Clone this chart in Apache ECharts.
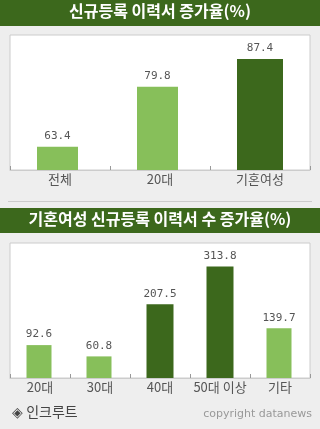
<!DOCTYPE html>
<html><head><meta charset="utf-8">
<script src="https://cdn.jsdelivr.net/npm/echarts@6/dist/echarts.min.js"></script>
<style>html,body{margin:0;padding:0;background:#eeeeee;}#c{width:320px;height:429px;}</style>
</head><body><div id="c"></div>
<script>
var title1 = '신규등록 이력서 증가율(%)';
var title2 = '기혼여성 신규등록 이력서 수 증가율(%)';
var cats1 = ['전체', '20대', '기혼여성'];
var light1 = [63.4, 79.8, '-'];
var dark1 = ['-', '-', 87.4];
var cats2 = ['20대', '30대', '40대', '50대 이상', '기타'];
var light2 = [92.6, 60.8, '-', '-', 139.7];
var dark2 = ['-', '-', 207.5, 313.8, '-'];
var source = '◈ 인크루트';
var credit = 'copyright datanews';

var LIGHT = '#87bf5a', DARK = '#3c681c';
var labelStyle = {show: true, position: 'top', distance: 5, color: '#555', fontFamily: 'DejaVu Sans Mono', fontSize: 11};
var chart = echarts.init(document.getElementById('c'), null, {renderer: 'canvas'});
function xAx(idx, cats) {
  return {gridIndex: idx, type: 'category', data: cats,
    axisLine: {show: true, lineStyle: {color: '#cccccc'}},
    axisTick: {show: true, inside: true, length: 4, lineStyle: {color: '#999'}},
    axisLabel: {interval: 0, color: '#555', fontFamily: 'Noto Sans CJK KR', fontSize: 13, margin: 3}};
}
chart.setOption({
  animation: false,
  backgroundColor: '#eeeeee',
  graphic: [
    {type: 'rect', shape: {x: 0, y: 0, width: 320, height: 26}, style: {fill: DARK}},
    {type: 'line', shape: {x1: 8, y1: 201.5, x2: 312, y2: 201.5}, style: {stroke: '#cccccc', lineWidth: 1}},
    {type: 'rect', shape: {x: 0, y: 208, width: 320, height: 25}, style: {fill: DARK}}
  ],
  title: [
    {text: title1, left: 'center', top: 3, padding: 0, textStyle: {color: '#fff', fontSize: 16, fontWeight: 'bold', fontFamily: 'Noto Sans CJK KR'}},
    {text: title2, left: 'center', top: 211, padding: 0, textStyle: {color: '#fff', fontSize: 16, fontWeight: 'bold', fontFamily: 'Noto Sans CJK KR'}},
    {text: source, left: 12, top: 405, padding: 0, textStyle: {color: '#444', fontSize: 14, fontWeight: 'normal', fontFamily: 'Noto Sans CJK KR'}},
    {text: credit, right: 8, top: 409, padding: 0, textStyle: {color: '#999', fontSize: 11, fontWeight: 'normal', fontFamily: 'DejaVu Sans'}}
  ],
  grid: [
    {left: 10, top: 35, width: 300, height: 135, show: true, backgroundColor: '#fff', borderColor: '#cccccc', borderWidth: 1},
    {left: 10, top: 243, width: 300, height: 135, show: true, backgroundColor: '#fff', borderColor: '#cccccc', borderWidth: 1}
  ],
  xAxis: [xAx(0, cats1), xAx(1, cats2)],
  yAxis: [
    {gridIndex: 0, type: 'value', min: 57, max: 94, show: false, splitLine: {show: false}},
    {gridIndex: 1, type: 'value', min: 0, max: 380, show: false, splitLine: {show: false}}
  ],
  series: [
    {type: 'bar', xAxisIndex: 0, yAxisIndex: 0, data: light1, barWidth: 41, barGap: '-100%', itemStyle: {color: LIGHT}, label: labelStyle},
    {type: 'bar', xAxisIndex: 0, yAxisIndex: 0, data: dark1, barWidth: 46, barGap: '-100%', itemStyle: {color: DARK}, label: labelStyle},
    {type: 'bar', xAxisIndex: 1, yAxisIndex: 1, data: light2, barWidth: 25, barGap: '-100%', itemStyle: {color: LIGHT}, label: labelStyle},
    {type: 'bar', xAxisIndex: 1, yAxisIndex: 1, data: dark2, barWidth: 27, barGap: '-100%', itemStyle: {color: DARK}, label: labelStyle}
  ]
});
</script></body></html>
